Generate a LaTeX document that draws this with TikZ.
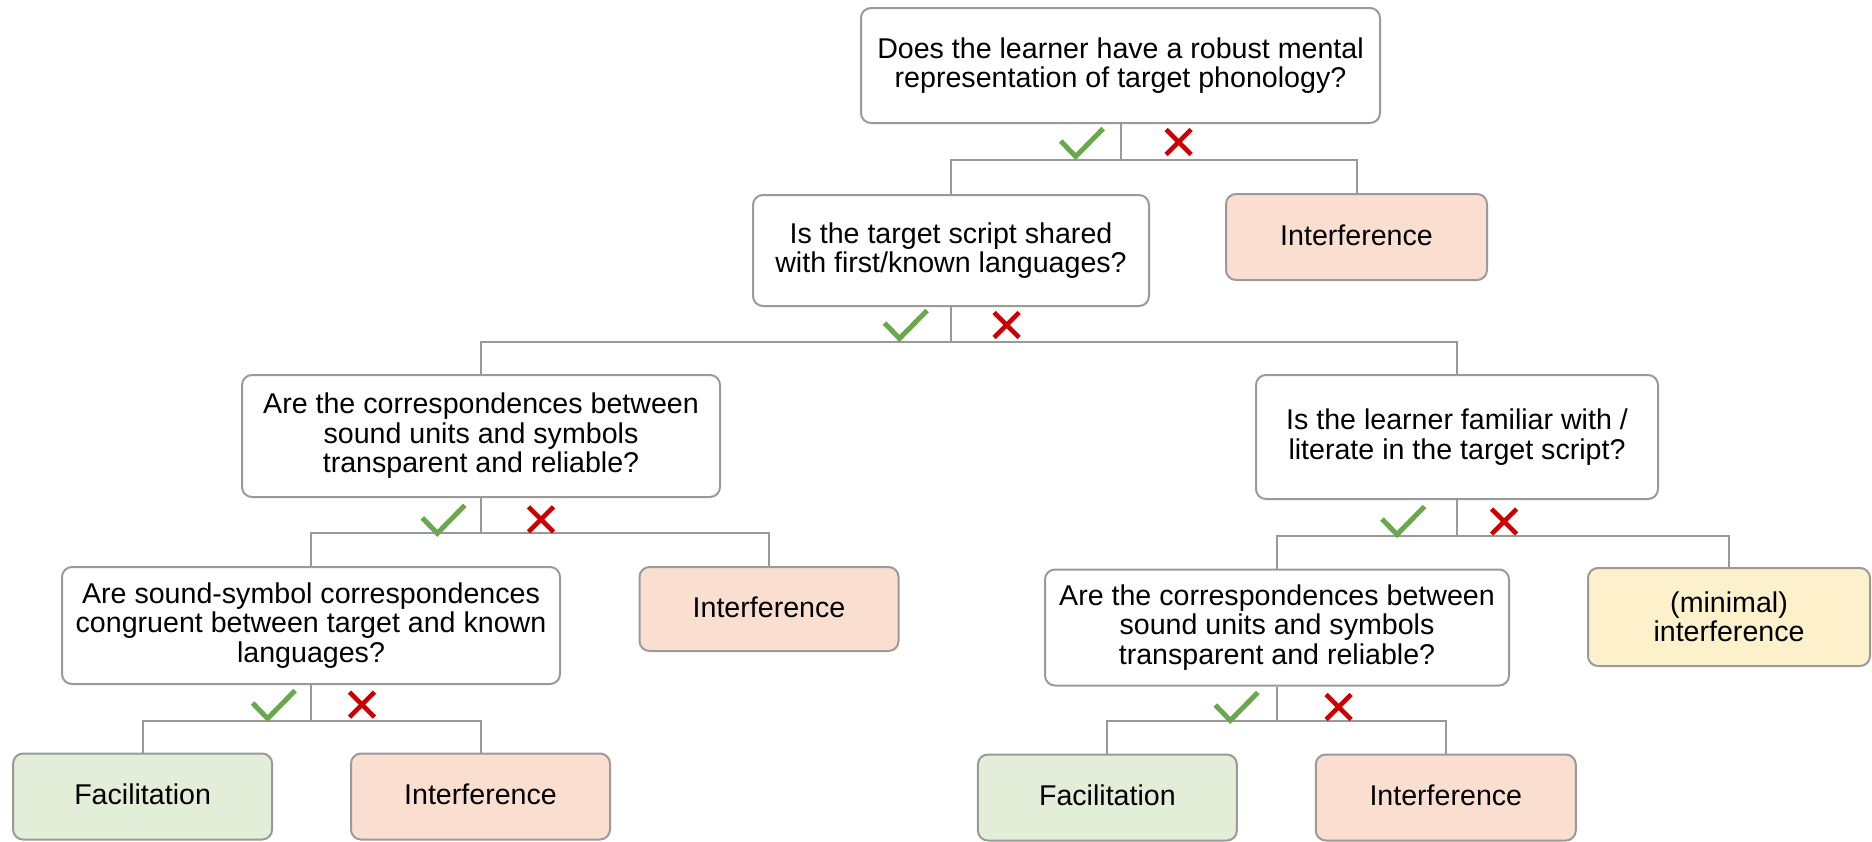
\documentclass[tikz,border=0pt]{standalone}
\usepackage{fontspec}
\setmainfont{Liberation Sans}
\usetikzlibrary{calc}

\definecolor{edgegray}{HTML}{9A9A9A}
\definecolor{linegray}{HTML}{999999}
\definecolor{facfill}{HTML}{E2EED7}
\definecolor{intfill}{HTML}{FADFD0}
\definecolor{minfill}{HTML}{FDF1CC}
\definecolor{yesgreen}{HTML}{6AA84F}
\definecolor{nored}{HTML}{CC0000}

\tikzset{
  box/.style={draw=edgegray, line width=2pt, rounded corners=10pt,
    align=center, inner sep=0pt, font=\fontsize{28.6}{29.5}\selectfont},
  question/.style={box, fill=white},
  outcome/.style={box, minimum width=259pt, minimum height=86pt, text depth=4pt},
  facbox/.style={outcome, fill=facfill},
  intbox/.style={outcome, fill=intfill},
  minbox/.style={box, fill=minfill},
  branch/.style={draw=linegray, line width=2pt},
  yesmark/.style={draw=yesgreen, line width=5pt, line join=miter},
  nomark/.style={draw=nored, line width=4.6pt},
}

% green tick and red cross placed relative to a branch bar point
\newcommand\tickat[1]{\draw[yesmark, shift={(#1)}] (-21,1.5) -- (-6,-14) -- (21.5,14);}
\newcommand\crossat[1]{\draw[nomark, shift={(#1)}] (-12.5,12.5) -- (12.5,-12.5) (-12.5,-12.5) -- (12.5,12.5);}

\begin{document}
\begin{tikzpicture}[x=1pt, y=1pt]
\useasboundingbox (0,0) rectangle (1872,-841);

% decision boxes
\node[question, minimum width=519pt, minimum height=115pt] (q1) at (1120.5,-65.5)
  {Does the learner have a robust mental\\representation of target phonology?};
\node[question, minimum width=396pt, minimum height=111pt] (q2) at (951,-250.5)
  {Is the target script shared\\with first/known languages?};
\node[question, minimum width=478pt, minimum height=122pt] (q3) at (481,-436)
  {Are the correspondences between\\sound units and symbols\\transparent and reliable?};
\node[question, minimum width=402pt, minimum height=124pt] (q4) at (1457,-437)
  {Is the learner familiar with /\\literate in the target script?};
\node[question, minimum width=498pt, minimum height=117pt] (q5) at (311,-625.5)
  {Are sound-symbol correspondences\\congruent between target and known\\languages?};
\node[question, minimum width=464pt, minimum height=116pt] (q6) at (1277,-627.5)
  {Are the correspondences between\\sound units and symbols\\transparent and reliable?};

% outcome boxes
\node[intbox, minimum width=261pt] (int1) at (1356.5,-237) {Interference};
\node[intbox, minimum height=84pt] (int2) at (769,-609) {Interference};
\node[minbox, minimum width=282pt, minimum height=98pt] (minI) at (1729,-617)
  {(minimal)\\interference};
\node[facbox] (facL) at (142.6,-796.5) {Facilitation};
\node[intbox] (intL) at (480.5,-796.5) {Interference};
\node[facbox] (facR) at (1107.4,-797.5) {Facilitation};
\node[intbox, minimum width=260pt] (intR) at (1445.8,-797.5) {Interference};

% branching connectors
\draw[branch] (q1.south) -- ++(0,-36) coordinate (b1);
\draw[branch] (q2.north) |- (b1) -| (int1.north);
\draw[branch] (q2.south) -- ++(0,-34.5) coordinate (b2);
\draw[branch] (q3.north) |- (b2) -| (q4.north);
\draw[branch] (q3.south) -- ++(0,-35) coordinate (b3);
\draw[branch] (q5.north) |- (b3) -| (int2.north);
\draw[branch] (q4.south) -- ++(0,-35.5) coordinate (b4);
\draw[branch] (q6.north) |- (b4) -| (minI.north);
\draw[branch] (q5.south) -- ++(0,-35.5) coordinate (b5);
\draw[branch] (facL.north) |- (b5) -| (intL.north);
\draw[branch] (q6.south) -- ++(0,-34.5) coordinate (b6);
\draw[branch] (facR.north) |- (b6) -| (intR.north);

% yes / no marks
\tickat{$(b1)+(-38.8,17.5)$}  \crossat{$(b1)+(58.2,18)$}
\tickat{$(b2)+(-45.5,17)$}    \crossat{$(b2)+(55.5,16.5)$}
\tickat{$(b3)+(-37.7,13.7)$}  \crossat{$(b3)+(60,13.7)$}
\tickat{$(b4)+(-54,15)$}      \crossat{$(b4)+(47,14)$}
\tickat{$(b5)+(-37.4,16)$}    \crossat{$(b5)+(51,16)$}
\tickat{$(b6)+(-40.7,14.5)$}  \crossat{$(b6)+(61.6,14)$}
\end{tikzpicture}
\end{document}
